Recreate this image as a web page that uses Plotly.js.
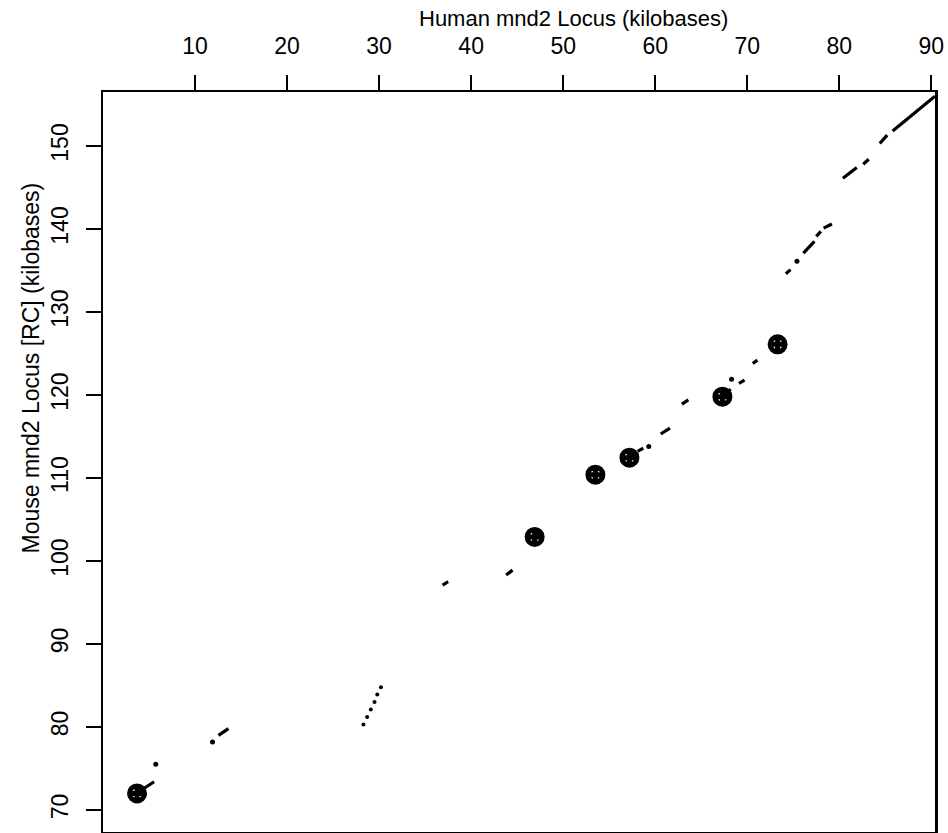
<!DOCTYPE html>
<html>
<head>
<meta charset="utf-8">
<script src="https://cdn.plot.ly/plotly-3.0.1.min.js"></script>
<style>html,body{margin:0;padding:0;background:#fff;}#chart{width:948px;height:833px;}</style>
</head>
<body>
<div id="chart"></div>
<script>
// Alignment segments (human kb, mouse kb): start and end points
const segX1 = [3.9, 12.55, 36.9, 43.8, 46.9, 57.2, 58.1, 60.6, 62.9, 67.3, 69.1, 70.6, 74.2, 76.1, 77.5, 78.3, 80.4, 82.6, 84.4, 85.8];
const segY1 = [72.2, 79.0, 97.1, 98.3, 102.9, 112.5, 113.2, 115.3, 118.9, 119.8, 121.4, 123.8, 134.6, 137.1, 139.1, 140.1, 146.1, 147.8, 150.3, 151.8];
const segX2 = [5.55, 13.63, 37.5, 44.5, 47.7, 57.9, 58.7, 61.6, 63.6, 68.2, 69.7, 71.1, 74.7, 77.3, 78.0, 79.2, 81.9, 83.2, 85.2, 90.4];
const segY2 = [73.4, 79.8, 97.5, 98.9, 103.6, 113.0, 113.6, 116.0, 119.4, 120.7, 121.8, 124.2, 135.1, 138.5, 139.7, 140.6, 147.4, 148.4, 151.3, 156.0];
// Isolated short matches (dots)
const dotX = [5.73, 11.9, 59.3, 68.3, 75.4];
const dotY = [75.5, 78.2, 113.8, 121.9, 136.1];
// Steep dotted match
const steepX = [28.3, 28.7, 29.1, 29.5, 29.8, 30.2];
const steepY = [80.3, 81.2, 82.1, 83.0, 83.9, 84.8];
// Anchor markers
const anchorX = [3.7, 46.9, 53.5, 57.2, 67.3, 73.3];
const anchorY = [72.0, 102.9, 110.4, 112.45, 119.8, 126.1];
// Axis ticks and titles
const xTicks = [10, 20, 30, 40, 50, 60, 70, 80, 90];
const yTicks = [70, 80, 90, 100, 110, 120, 130, 140, 150];
const xTitle = 'Human mnd2 Locus (kilobases)';
const yTitle = 'Mouse mnd2 Locus [RC] (kilobases)';

const lx = [], ly = [];
for (let i = 0; i < segX1.length; i++) {
  lx.push(segX1[i], segX2[i], null);
  ly.push(segY1[i], segY2[i], null);
}

const traces = [
  {x: lx, y: ly, type: 'scatter', mode: 'lines', line: {color: '#000', width: 3.2}, hoverinfo: 'skip', connectgaps: false},
  {x: dotX, y: dotY, type: 'scatter', mode: 'markers', marker: {color: '#000', size: 5}, hoverinfo: 'skip'},
  {x: steepX, y: steepY, type: 'scatter', mode: 'markers', marker: {color: '#000', size: 4}, hoverinfo: 'skip'},
  {x: anchorX, y: anchorY, type: 'scatter', mode: 'markers',
   marker: {symbol: 'circle-cross-open', size: 15, color: '#000', line: {color: '#000', width: 5}}, hoverinfo: 'skip'}
];

const font = 'Liberation Sans, Arial, Helvetica, sans-serif';
const layout = {
  width: 948, height: 833,
  margin: {l: 103, r: 13, t: 92, b: 1, pad: 0},
  paper_bgcolor: '#fff', plot_bgcolor: '#fff',
  showlegend: false,
  font: {family: font, color: '#000'},
  xaxis: {
    side: 'top', range: [0, 90.4], tickvals: xTicks, ticktext: xTicks.map(String),
    ticks: 'outside', ticklen: 15, tickwidth: 2, tickcolor: '#000', ticklabelstandoff: 11,
    showline: true, linewidth: 2.5, linecolor: '#000', mirror: true,
    showgrid: false, zeroline: false,
    tickfont: {size: 23, family: font, color: '#000'}
  },
  yaxis: {
    range: [67.35, 156.5], tickvals: yTicks, ticktext: yTicks.map(String),
    ticks: 'outside', ticklen: 15, tickwidth: 2, tickcolor: '#000', tickangle: -90, ticklabelstandoff: 8,
    showline: true, linewidth: 2.5, linecolor: '#000', mirror: true,
    showgrid: false, zeroline: false,
    tickfont: {size: 23, family: font, color: '#000'}
  },
  annotations: [
    {text: xTitle, xref: 'paper', yref: 'paper', x: 0.565, y: 1.099, xanchor: 'center', yanchor: 'middle',
     showarrow: false, font: {size: 22, family: font, color: '#000'}},
    {text: yTitle, xref: 'paper', yref: 'paper', x: -0.086, y: 0.627, xanchor: 'center', yanchor: 'middle',
     textangle: -90, showarrow: false, font: {size: 23, family: font, color: '#000'}}
  ]
};

Plotly.newPlot('chart', traces, layout, {staticPlot: true, displayModeBar: false});
</script>
</body>
</html>
